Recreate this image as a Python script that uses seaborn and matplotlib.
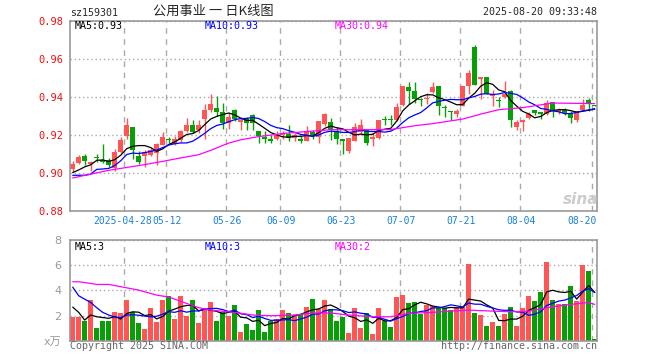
import numpy as np
import pandas as pd
import seaborn as sns
import matplotlib.pyplot as plt
from matplotlib import transforms

# daily candles, 2025-04-15 .. 2025-08-20 (88 trading days)
open_ = [0.9021, 0.9053, 0.9091, 0.9049, 0.9083, 0.9070, 0.9067, 0.9025, 0.9109, 0.9193,
         0.9244, 0.9091, 0.9088, 0.9097, 0.9105, 0.9147, 0.9176, 0.9154, 0.9172, 0.9219,
         0.9254, 0.9225, 0.9285, 0.9330, 0.9344, 0.9323, 0.9261, 0.9334, 0.9268, 0.9285,
         0.9306, 0.9223, 0.9188, 0.9181, 0.9181, 0.9202, 0.9205, 0.9184, 0.9181, 0.9167,
         0.9216, 0.9191, 0.9257, 0.9268, 0.9219, 0.9177, 0.9114, 0.9167, 0.9216, 0.9230,
         0.9181, 0.9184, 0.9280, 0.9280, 0.9279, 0.9359, 0.9453, 0.9429, 0.9389, 0.9390,
         0.9425, 0.9457, 0.9343, 0.9324, 0.9310, 0.9355, 0.9457, 0.9660, 0.9495, 0.9506,
         0.9403, 0.9384, 0.9400, 0.9431, 0.9243, 0.9268, 0.9289, 0.9334, 0.9323, 0.9310,
         0.9376, 0.9323, 0.9330, 0.9316, 0.9278, 0.9334, 0.9383, 0.9357]
high = [0.9063, 0.9098, 0.9102, 0.9063, 0.9102, 0.9154, 0.9079, 0.9126, 0.9189, 0.9289,
        0.9244, 0.9114, 0.9119, 0.9130, 0.9158, 0.9214, 0.9189, 0.9193, 0.9228, 0.9289,
        0.9277, 0.9277, 0.9365, 0.9417, 0.9407, 0.9369, 0.9316, 0.9337, 0.9296, 0.9296,
        0.9310, 0.9223, 0.9223, 0.9198, 0.9219, 0.9219, 0.9254, 0.9209, 0.9195, 0.9247,
        0.9229, 0.9275, 0.9316, 0.9289, 0.9244, 0.9177, 0.9184, 0.9265, 0.9286, 0.9230,
        0.9212, 0.9279, 0.9300, 0.9307, 0.9366, 0.9457, 0.9478, 0.9478, 0.9397, 0.9422,
        0.9478, 0.9457, 0.9359, 0.9324, 0.9338, 0.9457, 0.9539, 0.9670, 0.9506, 0.9506,
        0.9435, 0.9400, 0.9482, 0.9435, 0.9278, 0.9282, 0.9320, 0.9334, 0.9323, 0.9383,
        0.9376, 0.9344, 0.9344, 0.9327, 0.9327, 0.9390, 0.9397, 0.9358]
low = [0.9004, 0.9049, 0.9042, 0.9011, 0.9060, 0.9053, 0.9032, 0.9014, 0.9105, 0.9179,
       0.9077, 0.9049, 0.9035, 0.9088, 0.9044, 0.9147, 0.9158, 0.9147, 0.9161, 0.9214,
       0.9211, 0.9211, 0.9177, 0.9320, 0.9299, 0.9233, 0.9233, 0.9273, 0.9226, 0.9229,
       0.9229, 0.9156, 0.9160, 0.9160, 0.9174, 0.9177, 0.9167, 0.9170, 0.9160, 0.9167,
       0.9177, 0.9160, 0.9247, 0.9174, 0.9153, 0.9100, 0.9107, 0.9167, 0.9198, 0.9149,
       0.9142, 0.9177, 0.9254, 0.9254, 0.9275, 0.9355, 0.9362, 0.9369, 0.9355, 0.9362,
       0.9422, 0.9307, 0.9293, 0.9279, 0.9293, 0.9352, 0.9413, 0.9463, 0.9390, 0.9418,
       0.9351, 0.9348, 0.9393, 0.9243, 0.9226, 0.9219, 0.9282, 0.9303, 0.9285, 0.9306,
       0.9296, 0.9313, 0.9306, 0.9264, 0.9268, 0.9330, 0.9327, 0.9353]
close = [0.9049, 0.9084, 0.9063, 0.9060, 0.9081, 0.9060, 0.9042, 0.9112, 0.9175, 0.9254,
         0.9123, 0.9060, 0.9112, 0.9123, 0.9154, 0.9189, 0.9174, 0.9179, 0.9219, 0.9254,
         0.9214, 0.9254, 0.9334, 0.9365, 0.9323, 0.9261, 0.9296, 0.9285, 0.9278, 0.9264,
         0.9264, 0.9195, 0.9177, 0.9167, 0.9202, 0.9212, 0.9184, 0.9202, 0.9167, 0.9223,
         0.9198, 0.9275, 0.9313, 0.9229, 0.9177, 0.9170, 0.9184, 0.9240, 0.9254, 0.9156,
         0.9188, 0.9279, 0.9277, 0.9277, 0.9345, 0.9457, 0.9432, 0.9387, 0.9385, 0.9397,
         0.9453, 0.9355, 0.9340, 0.9320, 0.9327, 0.9457, 0.9527, 0.9465, 0.9506, 0.9418,
         0.9414, 0.9381, 0.9417, 0.9278, 0.9268, 0.9278, 0.9313, 0.9316, 0.9313, 0.9369,
         0.9334, 0.9334, 0.9316, 0.9289, 0.9327, 0.9358, 0.9362, 0.9354]
# volume, x10k
volume = [1.88, 1.88, 1.56, 3.2, 1.0, 1.56, 1.56, 2.27, 2.2, 3.2,
          2.25, 1.4, 0.93, 2.6, 1.48, 3.2, 3.55, 1.72, 3.55, 1.98,
          3.2, 1.4, 2.43, 3.07, 1.56, 2.25, 1.98, 2.83, 0.69, 1.32,
          0.85, 2.43, 0.69, 1.56, 1.72, 2.43, 2.2, 2.04, 2.09, 2.67,
          3.3, 2.51, 3.2, 2.49, 1.56, 1.88, 0.61, 2.6, 1.0, 2.17,
          0.53, 2.6, 1.56, 1.08, 3.47, 3.62, 2.99, 3.07, 2.12, 2.83,
          2.75, 2.6, 2.6, 2.43, 2.67, 2.75, 6.08, 2.2, 2.04, 1.16,
          1.48, 1.16, 2.12, 2.67, 1.16, 2.6, 3.55, 3.15, 3.86, 6.24,
          3.23, 2.91, 2.91, 4.34, 3.15, 6.0, 5.53, 0.13]

# moving averages: first values (need earlier history)
ma5_head = [0.9003, 0.9017, 0.9033, 0.9044]
ma10_head = [0.8989, 0.8989, 0.8989, 0.8995, 0.9020, 0.9022, 0.9025, 0.9040, 0.9065]
ma30_idx = [0, 3, 6, 9, 12, 15, 18, 21, 23, 26, 28, 31, 35, 38, 43, 48, 53, 57, 60,
            65, 68, 71, 75, 80, 87]
ma30_val = [0.8975, 0.8995, 0.9015, 0.9030, 0.9045, 0.9062, 0.9080, 0.9097, 0.9120,
            0.9158, 0.9175, 0.9192, 0.9208, 0.9216, 0.9228, 0.9228, 0.9229, 0.9249,
            0.9260, 0.9284, 0.9310, 0.9333, 0.9344, 0.9368, 0.9365]
vma5_head = [2.67, 2.25, 1.64, 2.04]
vma10_head = [4.26, 3.57, 3.3, 3.04, 2.62, 2.25, 2.04, 1.88, 1.83]
vma30_idx = [0, 1, 3, 4, 6, 8, 11, 14, 16, 19, 21, 23, 27, 30, 33, 37, 40, 43, 46,
             50, 53, 56, 60, 63, 66, 70, 73, 76, 80, 83, 86, 87]
vma30_val = [4.68, 4.68, 4.55, 4.47, 4.47, 4.29, 4.02, 3.62, 3.47, 2.96, 2.62, 2.43,
             2.25, 2.04, 1.98, 2.04, 2.2, 2.2, 2.04, 1.9, 1.9, 2.17, 2.25, 2.35, 2.43,
             2.35, 2.3, 2.35, 2.7, 2.88, 3.04, 2.88]

tick_idx = [9, 16, 26, 35, 45, 55, 65, 75, 87]
tick_labels = ["2025-04-28", "05-12", "05-26", "06-09", "06-23", "07-07", "07-21",
               "08-04", "08-20"]

RED = "#ff5555"
GREEN = "#06a006"
GRID = "#aaaaaa"

df = pd.DataFrame({"open": open_, "high": high, "low": low, "close": close,
                   "vol": volume})
df["idx"] = np.arange(len(df))
df["dir"] = np.where(df["close"] >= df["open"], "up", "down")
colors = df["dir"].map({"up": RED, "down": GREEN})

ma5 = df["close"].rolling(5).mean()
ma5.iloc[:4] = ma5_head
ma10 = df["close"].rolling(10).mean()
ma10.iloc[:9] = ma10_head
vma5 = df["vol"].rolling(5).mean()
vma5.iloc[:4] = vma5_head
vma10 = df["vol"].rolling(10).mean()
vma10.iloc[:9] = vma10_head

sns.set_style("white")
plt.rcParams["font.family"] = ["DejaVu Sans Mono", "Noto Sans CJK SC"]

fig = plt.figure(figsize=(6.6, 3.6), dpi=100)
W, H = 660, 360
ax = fig.add_axes([70 / W, 1 - 211.3 / H, 527 / W, 190.6 / H])
axv = fig.add_axes([70 / W, 1 - 340.7 / H, 527 / W, 100.7 / H])

# candles
body_lo = df[["open", "close"]].min(axis=1)
body_h = (df["close"] - df["open"]).abs().clip(lower=0.0005)
ax.vlines(df["idx"], df["low"], df["high"], colors=colors, lw=1.0, zorder=2)
ax.bar(df["idx"], body_h, bottom=body_lo, width=0.82, color=colors, lw=0, zorder=2)

sns.lineplot(x=df["idx"], y=ma5, color="black", lw=0.9, ax=ax, zorder=3)
sns.lineplot(x=df["idx"], y=ma10, color="#0000ff", lw=0.9, ax=ax, zorder=3)
sns.lineplot(x=ma30_idx, y=ma30_val, color="#ff00ff", lw=0.9, ax=ax, zorder=3)

# volume
sns.barplot(data=df, x="idx", y="vol", hue="dir", palette={"up": RED, "down": GREEN},
            native_scale=True, width=0.88, dodge=False, saturation=1, errorbar=None,
            legend=False, linewidth=0, ax=axv, zorder=2)
sns.lineplot(x=df["idx"], y=vma5, color="black", lw=0.9, ax=axv, zorder=3)
sns.lineplot(x=df["idx"], y=vma10, color="#0000ff", lw=0.9, ax=axv, zorder=3)
sns.lineplot(x=vma30_idx, y=vma30_val, color="#ff00ff", lw=0.9, ax=axv, zorder=3)

grid_x = [i - 0.37 for i in tick_idx]
for a in (ax, axv):
    a.set_xlim(-0.45, 87.38)
    a.set_xticks(grid_x)
    a.set_xticklabels([])
    a.set_xlabel("")
    a.set_ylabel("")
    a.tick_params(length=0)
    a.grid(axis="x", color=GRID, ls=(0, (4, 4)), lw=1)
    a.grid(axis="y", color=GRID, ls=(0, (1, 2)), lw=1)
    a.set_axisbelow(True)
    for s in a.spines.values():
        s.set_color("#999999")
        s.set_linewidth(1.2)
        s.set_zorder(5)

ax.set_ylim(0.88, 0.98)
ax.set_yticks([0.88, 0.90, 0.92, 0.94, 0.96, 0.98])
ax.set_yticklabels(["0.88", "0.90", "0.92", "0.94", "0.96", "0.98"], color="#ee1111",
                   fontsize=7.5)
ax.tick_params(axis="y", pad=5)

axv.set_ylim(0, 8)
axv.set_yticks([0, 2, 4, 6, 8])
axv.set_yticklabels(["x万", "2", "4", "6", "8"], color="#999999", fontsize=8,
                    family=["DejaVu Sans", "Noto Sans CJK SC"])
axv.tick_params(axis="y", pad=6)

# date labels under the price panel
trans = transforms.blended_transform_factory(ax.transData, ax.transAxes)
for i, (x, lab) in enumerate(zip(grid_x, tick_labels)):
    if i == 0:
        ax.text(x - 0.35, -0.052, lab, transform=trans, ha="center", va="center",
                color="#1a80d8", fontsize=7)
    elif i == len(tick_labels) - 1:
        ax.text(87.3, -0.052, lab, transform=trans, ha="right", va="center",
                color="#1a80d8", fontsize=7)
    else:
        ax.text(x + 0.15, -0.052, lab, transform=trans, ha="center", va="center",
                color="#1a80d8", fontsize=7)

# header and legends
fig.text(70 / W, 1 - 13 / H, "sz159301", fontsize=7.2, va="center", ha="left")
fig.text(213.5 / W, 1 - 11.5 / H, "公用事业 一 日K线图", fontsize=9.5, va="center",
         ha="center", family=["Noto Sans CJK SC", "DejaVu Sans"])
fig.text(597 / W, 1 - 12 / H, "2025-08-20 09:33:48", fontsize=7.2, va="center",
         ha="right")

fig.text(75 / W, 1 - 26 / H, "MA5:0.93", fontsize=7.2, va="center", color="black")
fig.text(205 / W, 1 - 26 / H, "MA10:0.93", fontsize=7.2, va="center", color="#0000ff")
fig.text(335 / W, 1 - 26 / H, "MA30:0.94", fontsize=7.2, va="center", color="#ff00ff")
fig.text(75 / W, 1 - 247 / H, "MA5:3", fontsize=7.2, va="center", color="black")
fig.text(205 / W, 1 - 247 / H, "MA10:3", fontsize=7.2, va="center", color="#0000ff")
fig.text(335 / W, 1 - 247 / H, "MA30:2", fontsize=7.2, va="center", color="#ff00ff")

fig.text(70 / W, 1 - 346 / H, "Copyright 2025 SINA.COM", fontsize=7.2, va="center",
         color="#666666")
fig.text(597 / W, 1 - 346 / H, "http://finance.sina.com.cn", fontsize=7.2,
         va="center", ha="right", color="#666666")

# faint watermark
fig.text(581 / W, 1 - 199 / H, "sina", fontsize=11, va="center", ha="center",
         color="#cccccc", style="italic", weight="bold", family="DejaVu Sans")

fig.savefig("out.png", dpi=100)
